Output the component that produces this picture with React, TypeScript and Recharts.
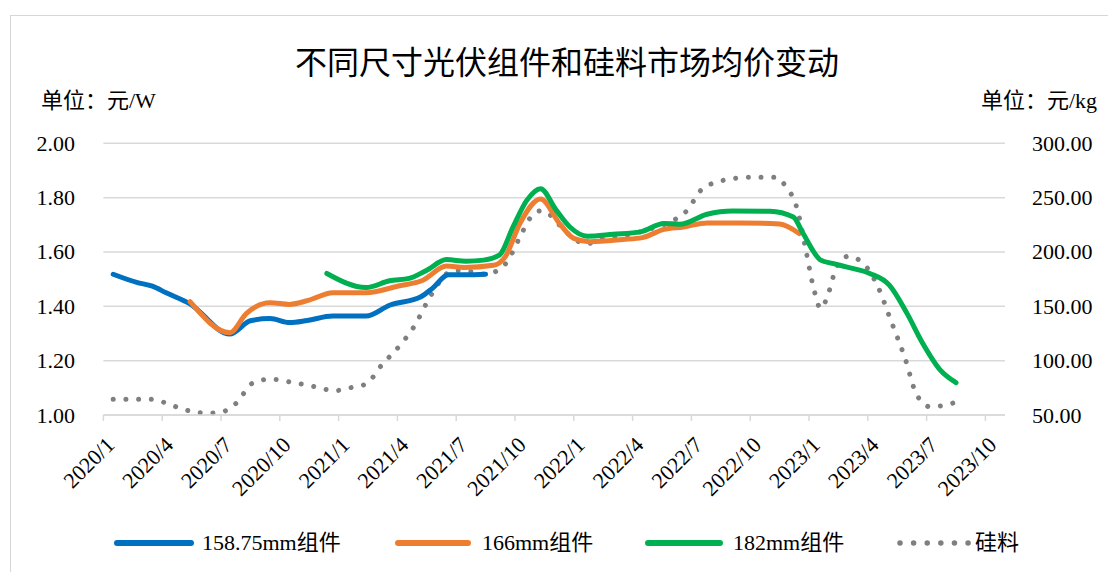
import React from "react";
import { LineChart, Line, XAxis, YAxis, CartesianGrid } from "recharts";

// x positions are months since 2020/1 (0 = 2020/1)
const xTicks = [0, 3, 6, 9, 12, 15, 18, 21, 24, 27, 30, 33, 36, 39, 42, 45];
const xTickLabels = [
  "2020/1", "2020/4", "2020/7", "2020/10", "2021/1", "2021/4", "2021/7", "2021/10",
  "2022/1", "2022/4", "2022/7", "2022/10", "2023/1", "2023/4", "2023/7", "2023/10",
];
const leftTicks = [1.0, 1.2, 1.4, 1.6, 1.8, 2.0];
const rightTicks = [50, 100, 150, 200, 250, 300];

const blueMonths = [0.5, 1.7, 2.5, 3.2, 4.4, 6.45, 7.5, 8.5, 9.5, 10.4, 11.7, 13.4, 14.6, 16.2, 16.8, 17.6, 18.5, 19.5];
const bluePrices = [1.518, 1.488, 1.474, 1.45, 1.41, 1.298, 1.347, 1.355, 1.34, 1.348, 1.364, 1.364, 1.404, 1.435, 1.467, 1.516, 1.516, 1.518];

const orangeMonths = [4.42, 6.45, 7.3, 8.5, 9.5, 10.5, 11.7, 13.4, 15.0, 16.3, 17.5, 18.4, 19.9, 20.5, 21.25, 22.3, 23.3, 24.0, 24.8, 26.5, 27.5, 28.6, 29.6, 30.8, 32.5, 34.5, 35.5];
const orangePrices = [1.417, 1.303, 1.374, 1.413, 1.407, 1.423, 1.45, 1.45, 1.474, 1.496, 1.548, 1.543, 1.551, 1.582, 1.705, 1.795, 1.702, 1.65, 1.638, 1.646, 1.653, 1.683, 1.692, 1.707, 1.707, 1.703, 1.668];

const greenMonths = [11.4, 13.4, 14.6, 15.6, 16.5, 17.5, 18.5, 19.4, 20.2, 20.9, 21.6, 22.3, 23.1, 23.8, 24.7, 26.0, 27.4, 28.6, 29.4, 30.8, 32.1, 34.0, 35.2, 35.7, 36.6, 37.2, 37.9, 39.1, 40.1, 41.0, 41.8, 42.7, 43.5];
const greenPrices = [1.521, 1.469, 1.494, 1.503, 1.533, 1.572, 1.566, 1.57, 1.588, 1.692, 1.79, 1.833, 1.754, 1.692, 1.658, 1.665, 1.674, 1.705, 1.702, 1.739, 1.751, 1.75, 1.729, 1.668, 1.57, 1.558, 1.545, 1.521, 1.478, 1.374, 1.264, 1.165, 1.119];

const siliconMonths = [0.5, 2.4, 3.7, 4.4, 5.3, 6.2, 6.8, 7.6, 8.5, 9.5, 10.8, 11.8, 12.7, 13.4, 14.2, 15.1, 15.9, 16.5, 17.2, 17.8, 18.5, 19.5, 20.1, 20.6, 21.2, 21.8, 22.3, 22.9, 23.4, 23.9, 24.6, 25.5, 26.8, 28.0, 29.2, 29.8, 30.5, 31.7, 33.0, 34.3, 34.8, 35.4, 35.8, 36.2, 36.6, 37.0, 37.4, 38.0, 38.8, 39.5, 40.2, 40.9, 41.5, 42.2, 43.4];
const siliconPrices = [64.4, 64.4, 57.6, 53.7, 51.6, 53.7, 61.3, 79.2, 83.0, 80.4, 76, 72.4, 75.5, 78.5, 96, 113.5, 132.8, 153.3, 173.6, 182.8, 182.5, 179.7, 182.8, 191, 211.9, 231.9, 237.9, 232.5, 222, 214, 207.3, 212.3, 215.9, 221.8, 230.3, 238.6, 257, 266.2, 268.7, 268.7, 260.7, 239.3, 205.5, 169.6, 148, 162.5, 185.9, 196, 188.9, 168.7, 135.9, 102.2, 68.4, 57.5, 61.2];

const seriesNames = ["158.75mm组件", "166mm组件", "182mm组件", "硅料"];
const colors = ["#0070c0", "#ed7d31", "#00b050", "#7f7f7f"];

const build = (ms: number[], vs: number[]) => ms.map((m, i) => ({ m, v: vs[i] }));
const blueData = build(blueMonths, bluePrices);
const orangeData = build(orangeMonths, orangePrices);
const greenData = build(greenMonths, greenPrices);
const siliconData = build(siliconMonths, siliconPrices);

const FONT = '"Times New Roman", "Liberation Serif", "DejaVu Serif", "Noto Sans CJK SC", serif';
const GRID = "#d9d9d9";

const XTick = (props: any) => {
  const { x, y, payload } = props;
  const idx = xTicks.indexOf(payload.value);
  const label = idx >= 0 ? xTickLabels[idx] : "";
  const ax = x + 7;
  const ay = y + 18;
  return (
    <text
      x={ax}
      y={ay}
      transform={`rotate(-45, ${ax}, ${ay})`}
      textAnchor="end"
      dominantBaseline="central"
      style={{ fontFamily: FONT }}
      fontSize={22}
      fill="#000"
    >
      {label}
    </text>
  );
};

const LeftTick = (props: any) => {
  const { y, payload } = props;
  return (
    <text x={75} y={y} textAnchor="end" dominantBaseline="central" style={{ fontFamily: FONT }} fontSize={22} fill="#000">
      {Number(payload.value).toFixed(2)}
    </text>
  );
};

const RightTick = (props: any) => {
  const { y, payload } = props;
  return (
    <text x={1032} y={y} textAnchor="start" dominantBaseline="central" style={{ fontFamily: FONT }} fontSize={22} fill="#000">
      {Number(payload.value).toFixed(2)}
    </text>
  );
};

const legendItems = [
  { lineLeft: 117, lineW: 74, textLeft: 202 },
  { lineLeft: 398, lineW: 70, textLeft: 482 },
  { lineLeft: 648, lineW: 72, textLeft: 733 },
  { lineLeft: 899, lineW: 70, textLeft: 975 },
];

export default function App() {
  return (
    <div style={{ position: "absolute", left: 0, top: 0, width: 1108, height: 572, background: "#fff", overflow: "hidden" }}>
      <div
        style={{
          position: "absolute",
          left: 10,
          top: 15,
          width: 1120,
          height: 580,
          border: "1.5px solid #d6d6d6",
          boxSizing: "border-box",
        }}
      />
      <div
        style={{
          position: "absolute",
          left: 0,
          top: 40,
          width: 1134,
          textAlign: "center",
          fontFamily: '"Noto Sans CJK SC", sans-serif',
          fontSize: 32,
          lineHeight: "40px",
          color: "#000",
        }}
      >
        不同尺寸光伏组件和硅料市场均价变动
      </div>
      <div style={{ position: "absolute", left: 41, top: 87, fontFamily: FONT, fontSize: 22, lineHeight: "28px", color: "#000", whiteSpace: "nowrap" }}>
        单位：元/W
      </div>
      <div style={{ position: "absolute", right: 11, top: 87, fontFamily: FONT, fontSize: 22, lineHeight: "28px", color: "#000", whiteSpace: "nowrap" }}>
        单位：元/kg
      </div>
      <div style={{ position: "absolute", left: 0, top: 0 }}>
        <LineChart width={1108} height={572} margin={{ top: 143.3, right: 23, bottom: 57, left: 23.4 }}>
          <CartesianGrid horizontal vertical={false} stroke={GRID} strokeWidth={1.5} yAxisId="left" />
          <XAxis
            dataKey="m"
            type="number"
            domain={[0, 46]}
            ticks={xTicks}
            allowDataOverflow
            height={100}
            stroke={GRID}
            strokeWidth={1.5}
            tickSize={6}
            tick={<XTick />}
            interval={0}
          />
          <YAxis
            yAxisId="left"
            orientation="left"
            domain={[1, 2]}
            ticks={leftTicks}
            width={80}
            axisLine={false}
            tickLine={false}
            tick={<LeftTick />}
          />
          <YAxis
            yAxisId="right"
            orientation="right"
            domain={[50, 300]}
            ticks={rightTicks}
            width={80}
            axisLine={false}
            tickLine={false}
            tick={<RightTick />}
          />
          <Line yAxisId="right" data={siliconData} dataKey="v" name={seriesNames[3]} type="monotone" stroke={colors[3]} strokeWidth={5} strokeDasharray="0.01 12.7" strokeLinecap="round" dot={false} isAnimationActive={false} />
          <Line yAxisId="left" data={blueData} dataKey="v" name={seriesNames[0]} type="monotone" stroke={colors[0]} strokeWidth={5} strokeLinecap="round" dot={false} isAnimationActive={false} />
          <Line yAxisId="left" data={orangeData} dataKey="v" name={seriesNames[1]} type="monotone" stroke={colors[1]} strokeWidth={5} strokeLinecap="round" dot={false} isAnimationActive={false} />
          <Line yAxisId="left" data={greenData} dataKey="v" name={seriesNames[2]} type="monotone" stroke={colors[2]} strokeWidth={5} strokeLinecap="round" dot={false} isAnimationActive={false} />
        </LineChart>
      </div>
      {legendItems.map((it, i) => (
        <React.Fragment key={i}>
          <svg style={{ position: "absolute", left: it.lineLeft - 4, top: 535 }} width={it.lineW + 8} height={16}>
            {i < 3 ? (
              <line x1={4} y1={8} x2={it.lineW + 4} y2={8} stroke={colors[i]} strokeWidth={6} strokeLinecap="round" />
            ) : (
              <line x1={5} y1={8} x2={it.lineW + 4} y2={8} stroke={colors[i]} strokeWidth={5.5} strokeLinecap="round" strokeDasharray="0.01 13.6" />
            )}
          </svg>
          <div style={{ position: "absolute", left: it.textLeft, top: 528, fontFamily: FONT, fontSize: 22, lineHeight: "30px", color: "#000", whiteSpace: "nowrap" }}>
            {seriesNames[i]}
          </div>
        </React.Fragment>
      ))}
    </div>
  );
}
